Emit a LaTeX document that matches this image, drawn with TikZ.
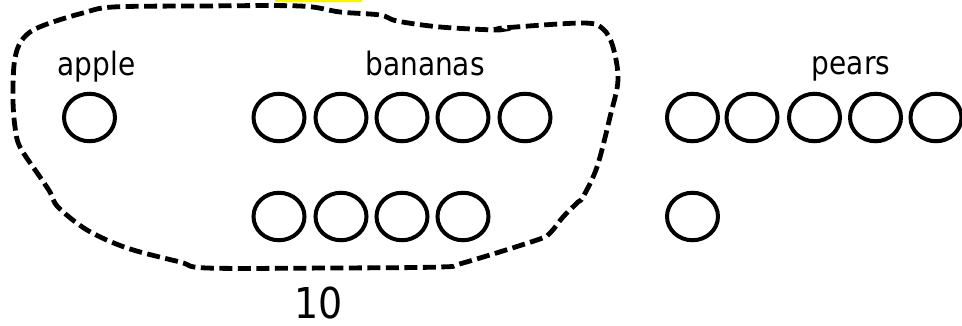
\documentclass[tikz,border=0pt]{standalone}
\usepackage{fontspec}
\usepackage{graphicx}
\setmainfont{DejaVu Sans}
\usetikzlibrary{shapes.geometric}
\tikzset{
  fruit/.style={ellipse, draw=black, line width=4pt, minimum width=51pt, minimum height=47.5pt, inner sep=0pt},
  label/.style={anchor=base, inner sep=0pt, font=\fontsize{28}{30}\selectfont},
  total/.style={anchor=base, inner sep=0pt, font=\fontsize{38}{40}\selectfont},
  blob/.style={line width=4.8pt, dash pattern=on 13pt off 5.5pt}
}
\begin{document}
\begin{tikzpicture}[x=1pt,y=-1pt]
\useasboundingbox (0,0) rectangle (962,325);
\begin{scope}
\clip (0,0) rectangle (962,325);
% yellow strip at top
\fill[yellow] (275,0) rectangle (362,2);
% labels
\node[label] (lapple) at (96.5,75) {\scalebox{1}[1.15]{apple}};
\node[label] (lbananas) at (425,75) {\scalebox{1}[1.15]{bananas}};
\node[label] (lpears) at (851,74) {\scalebox{1}[1.15]{pears}};
\node[total] (ltotal) at (319,318) {\scalebox{1}[1.12]{10}};
% apple
\node[fruit] (a1) at (89.5,117.5) {};
% bananas
\node[fruit] (b1) at (279,117.5) {};
\node[fruit] (b2) at (341,117.5) {};
\node[fruit] (b3) at (402,117.5) {};
\node[fruit] (b4) at (463,117.5) {};
\node[fruit] (b5) at (525,117.5) {};
\node[fruit] (b6) at (279,216.5) {};
\node[fruit] (b7) at (341,216.5) {};
\node[fruit] (b8) at (402,216.5) {};
\node[fruit] (b9) at (463,216.5) {};
% pears
\node[fruit] (p1) at (692.5,117.5) {};
\node[fruit] (p2) at (752,117.5) {};
\node[fruit] (p3) at (814.5,117.5) {};
\node[fruit] (p4) at (875.5,117.5) {};
\node[fruit] (p5) at (936,117.5) {};
\node[fruit] (p6) at (692.5,216.5) {};
% dashed blob
\draw[blob] plot[smooth cycle, tension=0.55] coordinates {
  (113,7) (200,6) (300,6) (340,12) (380,15) (397,21) (440,27) (497,30) (503,28)
  (583,23) (603,29) (613,47) (618,80) (610,117) (597,167) (583,197) (578,202)
  (563,217) (550,233) (537,240) (463,263) (440,267) (330,268) (207,268)
  (180,262) (127,248) (87,230) (58,207) (50,192) (40,177) (20,147) (15,127)
  (13,100) (14,65) (19,45) (30,32) (50,23) (83,13)};
\end{scope}
\end{tikzpicture}
\end{document}
